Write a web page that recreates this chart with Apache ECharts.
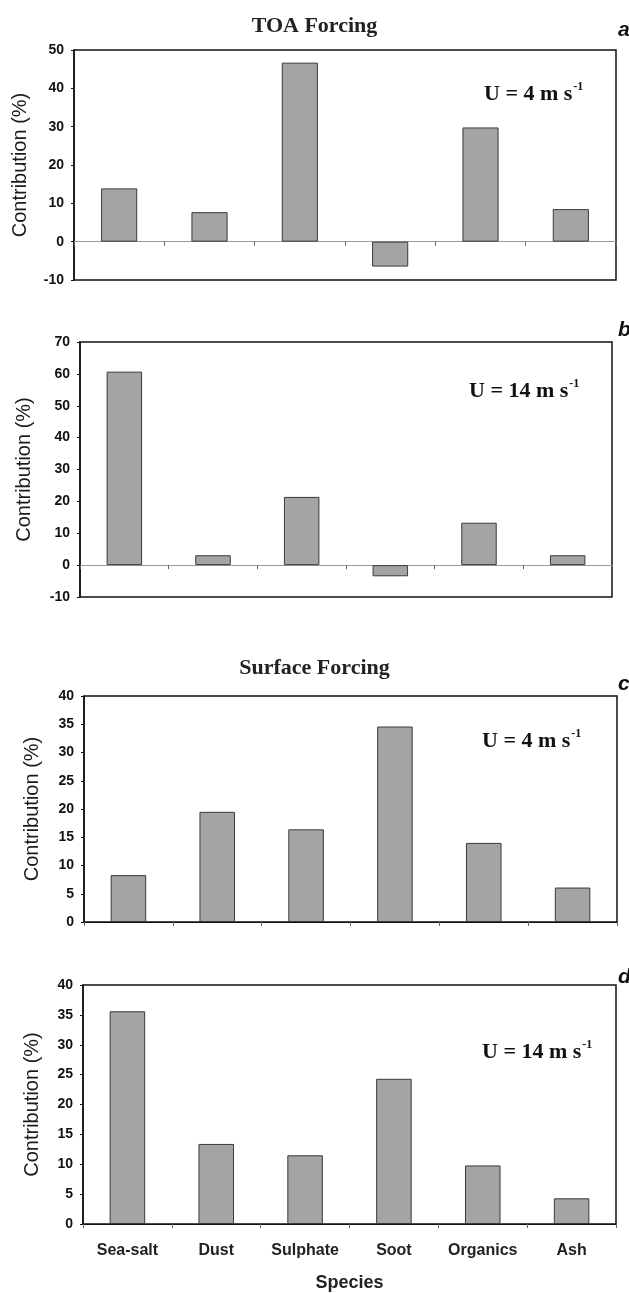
<!DOCTYPE html>
<html>
<head>
<meta charset="utf-8">
<title>Contribution by species</title>
<script src="https://cdn.jsdelivr.net/npm/echarts@6/dist/echarts.min.js"></script>
<style>
  html, body { margin: 0; padding: 0; background: #fff; }
  #chart { width: 629px; height: 1293px; }
</style>
</head>
<body>
<div id="chart"></div>
<script>
// species on the x axis (same for all four panels)
const species = ['Sea-salt', 'Dust', 'Sulphate', 'Soot', 'Organics', 'Ash'];

// contributions (%)
const toaLowWind = [13.9, 7.7, 46.7, -6.5, 29.8, 8.5];      // a: TOA, U = 4
const toaHighWind = [60.7, 3.1, 21.4, -3.5, 13.3, 3.1];     // b: TOA, U = 14
const surfLowWind = [8.3, 19.5, 16.4, 34.6, 14.0, 6.1];     // c: surface, U = 4
const surfHighWind = [35.6, 13.4, 11.5, 24.3, 9.8, 4.3];    // d: surface, U = 14

// y axis ranges [min, max, step]
const yRangeA = [-10, 50, 10];
const yRangeB = [-10, 70, 10];
const yRangeC = [0, 40, 5];
const yRangeD = [0, 40, 5];

const panelLetters = ['a', 'b', 'c', 'd'];
const windLabels = ['4', '14', '4', '14'];

const chart = echarts.init(document.getElementById('chart'));

// plot areas, in pixels
const grids = [
  { left: 74, top: 50, width: 542, height: 230 },
  { left: 80, top: 342, width: 532, height: 255 },
  { left: 84, top: 696, width: 533, height: 226 },
  { left: 83, top: 985, width: 533, height: 240 }
];
const nameGaps = [44, 46, 42, 41];
const ranges = [yRangeA, yRangeB, yRangeC, yRangeD];
const seriesData = [toaLowWind, toaHighWind, surfLowWind, surfHighWind];

const sans = 'Liberation Sans, Arial, sans-serif';
const serif = 'Liberation Serif, Times New Roman, serif';

const xAxes = grids.map((g, i) => ({
  type: 'category',
  gridIndex: i,
  data: species,
  axisLine: { onZero: true, lineStyle: { color: i < 2 ? '#9a9a9a' : '#111', width: 1 } },
  axisTick: { show: true, interval: 0, alignWithLabel: false, length: 4, lineStyle: { color: '#666' } },
  axisLabel: {
    show: i === 3,
    interval: 0,
    margin: 19,
    fontFamily: sans,
    fontWeight: 'bold',
    fontSize: 16,
    color: '#222'
  },
  name: i === 3 ? 'Species' : '',
  nameLocation: 'middle',
  nameGap: 50,
  nameTextStyle: { fontFamily: sans, fontWeight: 'bold', fontSize: 18, color: '#222' }
}));

const yAxes = grids.map((g, i) => ({
  type: 'value',
  gridIndex: i,
  min: ranges[i][0],
  max: ranges[i][1],
  interval: ranges[i][2],
  splitLine: { show: false },
  axisLine: { show: true, lineStyle: { color: '#111', width: 1.5 } },
  axisTick: { show: true, length: 3, lineStyle: { color: '#111' } },
  axisLabel: { margin: 10, fontFamily: sans, fontWeight: 'bold', fontSize: 14, color: '#111' },
  name: 'Contribution (%)',
  nameLocation: 'middle',
  nameGap: nameGaps[i],
  nameTextStyle: { fontFamily: sans, fontSize: 20, color: '#1a1a1a' }
}));

const series = seriesData.map((d, i) => ({
  type: 'bar',
  xAxisIndex: i,
  yAxisIndex: i,
  data: d,
  barWidth: '40%',
  itemStyle: { color: '#a4a4a4', borderColor: '#3a3a3a', borderWidth: 1 },
  silent: true
}));

// headings, panel letters and wind-speed notes
const headStyle = { fontFamily: serif, fontWeight: 'bold', fontSize: 22, color: '#222' };
const titles = [
  { text: 'TOA Forcing', left: 'center', top: 10, textStyle: headStyle },
  { text: 'Surface Forcing', left: 'center', top: 652, textStyle: headStyle }
];
const letterTops = [15, 315, 669, 962];
panelLetters.forEach((l, i) => {
  titles.push({
    text: l, left: 613, top: letterTops[i],
    textStyle: { fontFamily: sans, fontStyle: 'italic', fontWeight: 'bold', fontSize: 21, color: '#111' }
  });
});
const notePos = [[479, 76], [464, 373], [477, 723], [477, 1034]];
windLabels.forEach((w, i) => {
  titles.push({
    text: '{m|U = ' + w + ' m s}{sup|-1}',
    left: notePos[i][0],
    top: notePos[i][1],
    textStyle: {
      rich: {
        m: { fontFamily: serif, fontWeight: 'bold', fontSize: 22, color: '#111', lineHeight: 26 },
        sup: { fontFamily: serif, fontWeight: 'bold', fontSize: 12, color: '#111', verticalAlign: 'top', padding: [0, 0, 12, 1], lineHeight: 26 }
      }
    }
  });
});

const option = {
  animation: false,
  backgroundColor: '#fff',
  title: titles,
  grid: grids.map(g => Object.assign({ show: true, borderColor: '#111', borderWidth: 1.5, backgroundColor: '#fff' }, g)),
  xAxis: xAxes,
  yAxis: yAxes,
  series: series
};

chart.setOption(option);
</script>
</body>
</html>
